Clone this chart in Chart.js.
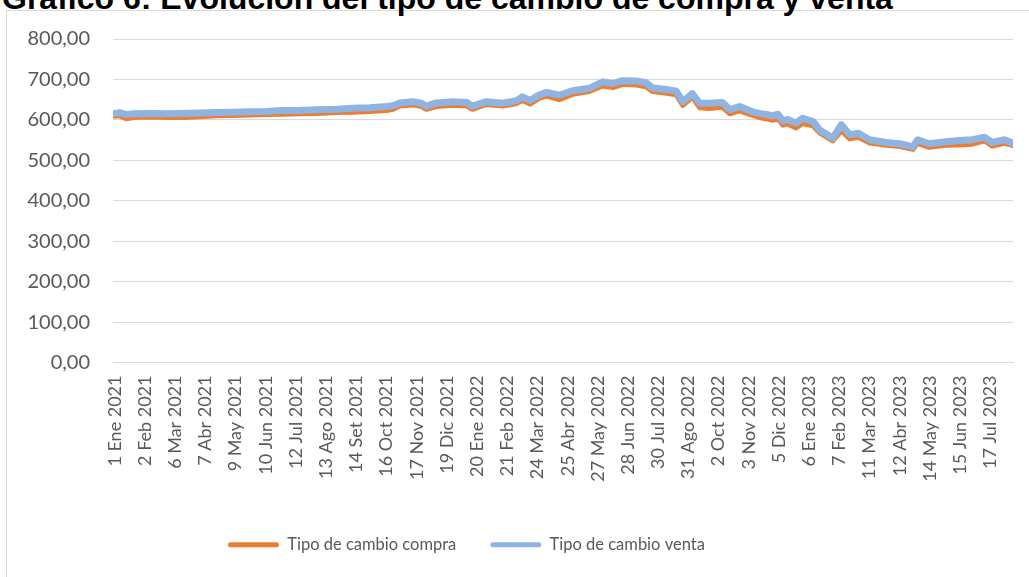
<!DOCTYPE html>
<html>
<head>
<meta charset="utf-8">
<script src="https://cdn.jsdelivr.net/npm/chart.js@4"></script>
<style>
  html,body{margin:0;padding:0;background:#fff;overflow:hidden;width:1029px;height:577px;}
  #marco{position:absolute;left:6px;top:10px;width:1100px;height:600px;border:1px solid #d9d9d9;box-sizing:border-box;}
  #titulo{position:absolute;left:2px;top:-18px;font:bold 32px "Liberation Sans",Arial,sans-serif;line-height:32px;color:#000;white-space:nowrap;}
  #chart{position:absolute;left:0;top:0;}
</style>
</head>
<body>
<div id="marco"></div>
<div id="titulo">Gráfico 6: Evolución del tipo de cambio de compra y venta</div>
<canvas id="chart" width="1029" height="577"></canvas>
<script>
// dia = dias desde el 1 Ene 2021 (posicion en la serie diaria)
const dias   = [0,5,12,20,37,55,72,90,108,125,143,160,178,195,214,235,252,270,288,295,302,316,325,330,341,358,373,379,394,411,425,432,440,450,458,471,485,503,517,528,538,553,563,570,585,595,602,612,620,630,644,652,662,676,683,694,697,703,708,713,722,729,740,747,761,770,779,788,800,818,832,846,851,863,881,895,909,922,930,943,951];
const venta  = [616,618,613,615,616,615,616,617,618,619,620,621,623,623,625,626,629,630,633,635,642,645,641,634,642,645,643,634,645,641,647,657,648,662,668,661,672,678,694,690,697,696,692,679,675,671,645,665,641,641,643,625,633,620,616,612,610,614,597,601,592,604,596,575,555,588,563,567,551,544,541,533,551,541,546,549,551,557,544,551,543];
const compra = [609,610,603,606,607,606,606,608,610,611,612,613,614,615,616,618,619,621,623,626,634,637,633,626,633,636,634,626,638,634,640,648,639,654,659,650,663,670,684,680,688,686,682,670,666,662,636,656,630,628,631,615,622,611,606,601,599,602,587,590,580,591,585,568,548,573,553,557,543,537,534,527,542,532,537,538,540,548,535,542,537];
const tickLabels = ["1 Ene 2021","2 Feb 2021","6 Mar 2021","7 Abr 2021","9 May 2021","10 Jun 2021","12 Jul 2021","13 Ago 2021","14 Set 2021","16 Oct 2021","17 Nov 2021","19 Dic 2021","20 Ene 2022","21 Feb 2022","24 Mar 2022","25 Abr 2022","27 May 2022","28 Jun 2022","30 Jul 2022","31 Ago 2022","2 Oct 2022","3 Nov 2022","5 Dic 2022","6 Ene 2023","7 Feb 2023","11 Mar 2023","12 Abr 2023","14 May 2023","15 Jun 2023","17 Jul 2023"];
const pasoEtiqueta = 32;

const gris = "#595959";
const fuente = 'Lato, "Open Sans", sans-serif';

// la leyenda del original no esta centrada
const moverLeyenda = {
  id: "moverLeyenda",
  afterLayout(chart){
    const lg = chart.legend;
    const w = lg.right - lg.left;
    lg.left = 228 - lg.options.labels.padding;
    lg.right = lg.left + w;
  }
};

const baseLabels = Chart.defaults.plugins.legend.labels.generateLabels;

new Chart(document.getElementById("chart"), {
  type: "line",
  data: {
    datasets: [
      { label: "Tipo de cambio compra", data: dias.map((d,i)=>({x:d, y:compra[i]})),
        borderColor: "#ED7D31", backgroundColor: "#ED7D31", borderWidth: 5, order: 2 },
      { label: "Tipo de cambio venta", data: dias.map((d,i)=>({x:d, y:venta[i]})),
        borderColor: "#8FB4E1", backgroundColor: "#8FB4E1", borderWidth: 7, order: 1 }
    ]
  },
  options: {
    responsive: false,
    animation: false,
    devicePixelRatio: 1,
    elements: {
      point: { radius: 0 },
      line: { tension: 0, borderJoinStyle: "round", borderCapStyle: "round" }
    },
    layout: { padding: { top: 39, right: 16, left: 0, bottom: 14 } },
    scales: {
      x: {
        type: "linear", min: -2, max: 952,
        afterFit(scale){ scale.height = 140; },
        grid: { display: false, drawTicks: false },
        border: { color: "#d9d9d9", width: 1 },
        afterBuildTicks(scale){ scale.ticks = tickLabels.map((t,i)=>({value: i*pasoEtiqueta})); },
        ticks: {
          autoSkip: false, minRotation: 90, maxRotation: 90, padding: 13,
          color: gris, font: { family: fuente, size: 18 },
          callback: (v, i) => tickLabels[i]
        }
      },
      y: {
        min: 0, max: 800,
        afterFit(scale){ scale.width = 113; },
        grid: { color: "#d9d9d9", drawTicks: false },
        border: { display: false },
        ticks: {
          stepSize: 100, padding: 23, color: gris, font: { family: fuente, size: 20 },
          callback: v => v.toFixed(2).replace(".", ",")
        }
      }
    },
    plugins: {
      tooltip: { enabled: false },
      legend: {
        position: "bottom", align: "start",
        labels: {
          boxWidth: 51, boxHeight: 5, padding: 34, color: gris,
          useBorderRadius: true, borderRadius: 2.5,
          font: { family: fuente, size: 16.5 },
          sort: (a,b) => a.datasetIndex - b.datasetIndex,
          generateLabels(chart){
            return baseLabels(chart).map(l => Object.assign(l, { lineWidth: 0, fillStyle: l.strokeStyle }));
          }
        }
      }
    }
  },
  plugins: [moverLeyenda]
});
</script>
</body>
</html>
